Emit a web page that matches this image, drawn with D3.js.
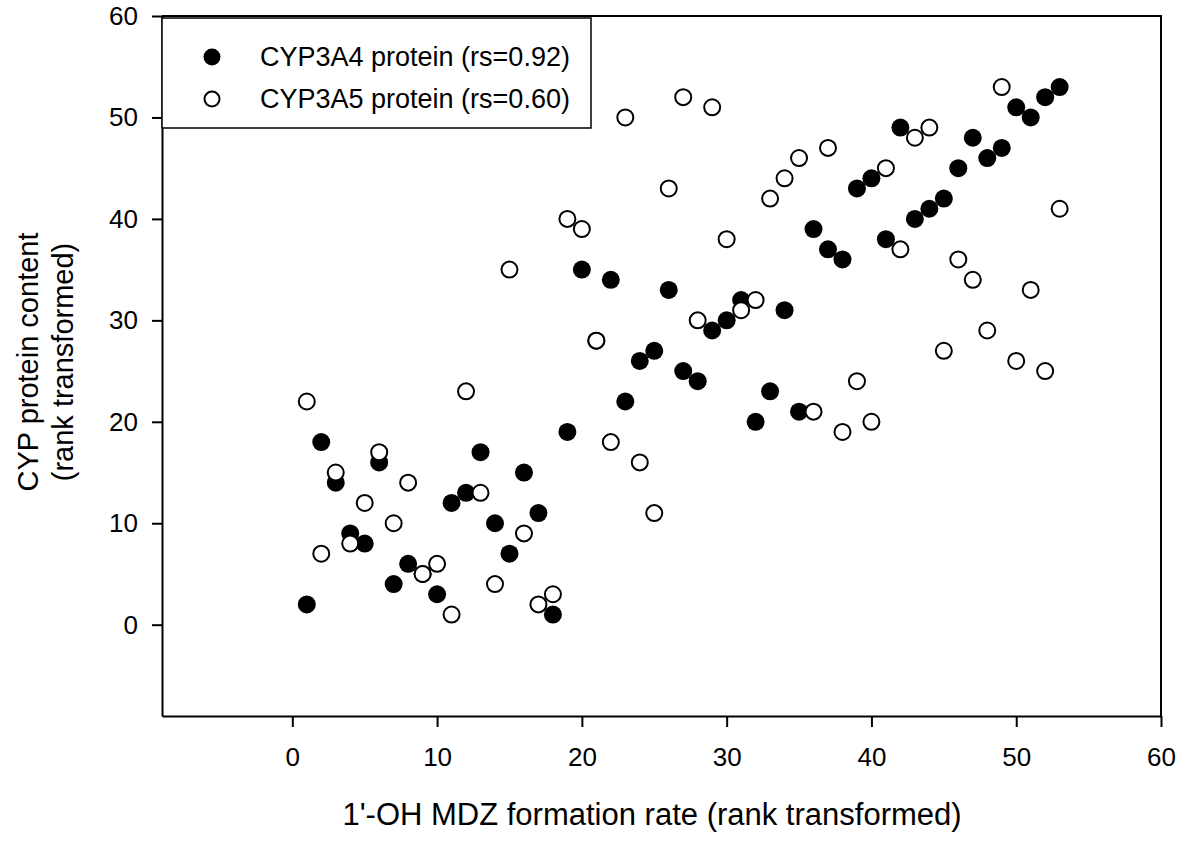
<!DOCTYPE html>
<html>
<head>
<meta charset="utf-8">
<script src="https://cdn.jsdelivr.net/npm/d3@7"></script>
<style>
  body { margin: 0; background: #fff; }
  text { font-family: "Liberation Sans", Arial, sans-serif; fill: #000; }
</style>
</head>
<body>
<div id="chart"></div>
<script>
// rank of 1'-OH MDZ formation rate (x) for each liver
const mdzRank = [1, 2, 3, 4, 5, 6, 7, 8, 9, 10, 11, 12, 13, 14, 15, 16, 17, 18, 19, 20,
    21, 22, 23, 24, 25, 26, 27, 28, 29, 30, 31, 32, 33, 34, 35, 36, 37, 38, 39, 40,
    41, 42, 43, 44, 45, 46, 47, 48, 49, 50, 51, 52, 53];

// CYP3A4 protein rank
const cyp3a4Rank = [2, 18, 14, 9, 8, 16, 4, 6, 5, 3, 12, 13, 17, 10, 7, 15, 11, 1, 19, 35,
    28, 34, 22, 26, 27, 33, 25, 24, 29, 30, 32, 20, 23, 31, 21, 39, 37, 36, 43, 44,
    38, 49, 40, 41, 42, 45, 48, 46, 47, 51, 50, 52, 53];

// CYP3A5 protein rank
const cyp3a5Rank = [22, 7, 15, 8, 12, 17, 10, 14, 5, 6, 1, 23, 13, 4, 35, 9, 2, 3, 40, 39,
    28, 18, 50, 16, 11, 43, 52, 30, 51, 38, 31, 32, 42, 44, 46, 21, 47, 19, 24, 20,
    45, 37, 48, 49, 27, 36, 34, 29, 53, 26, 33, 25, 41];

const seriesNames = ["CYP3A4 protein (rs=0.92)", "CYP3A5 protein (rs=0.60)"];
const tickValues = [0, 10, 20, 30, 40, 50, 60];

const margin = { top: 16, right: 24, bottom: 126, left: 162 };
const width = 1185 - margin.left - margin.right;
const height = 842 - margin.top - margin.bottom;

const svg = d3.select("#chart")
    .append("svg")
    .attr("width", width + margin.left + margin.right)
    .attr("height", height + margin.top + margin.bottom)
    .append("g")
    .attr("transform", `translate(${margin.left}, ${margin.top})`);

// escalas
const x = d3.scaleLinear().domain([-9, 60]).range([0, width]);
const y = d3.scaleLinear().domain([-9, 60]).range([height, 0]);

// marco (arriba y derecha)
svg.append("path")
    .attr("d", `M0,0H${width}V${height}`)
    .attr("fill", "none")
    .attr("stroke", "#000")
    .attr("stroke-width", 2);

// ejes
const xAxis = svg.append("g")
    .attr("transform", `translate(0, ${height})`)
    .call(d3.axisBottom(x).tickValues(tickValues).tickSize(11).tickPadding(21).tickSizeOuter(0));

const yAxis = svg.append("g")
    .call(d3.axisLeft(y).tickValues(tickValues).tickSize(10).tickPadding(14).tickSizeOuter(0));

[xAxis, yAxis].forEach(a => {
    a.select(".domain").attr("stroke-width", 2);
    a.selectAll(".tick line").attr("stroke-width", 2);
    a.selectAll("text")
        .style("font-family", "'Liberation Sans', Arial, sans-serif")
        .style("font-size", "26px")
        .attr("fill", "#000");
});

// puntos: CYP3A4 rellenos, CYP3A5 vacíos encima
svg.append("g")
    .selectAll("circle")
    .data(mdzRank.map((r, i) => ({ x: r, y: cyp3a4Rank[i] })))
    .enter()
    .append("circle")
    .attr("cx", d => x(d.x))
    .attr("cy", d => y(d.y))
    .attr("r", 9)
    .attr("fill", "#000");

svg.append("g")
    .selectAll("circle")
    .data(mdzRank.map((r, i) => ({ x: r, y: cyp3a5Rank[i] })))
    .enter()
    .append("circle")
    .attr("cx", d => x(d.x))
    .attr("cy", d => y(d.y))
    .attr("r", 8)
    .attr("fill", "#fff")
    .attr("stroke", "#000")
    .attr("stroke-width", 2);

// leyenda
const legend = svg.append("g").attr("transform", "translate(0, 2)");
legend.append("rect")
    .attr("x", 0)
    .attr("y", 0)
    .attr("width", 429)
    .attr("height", 110)
    .attr("fill", "#fff")
    .attr("stroke", "#000")
    .attr("stroke-width", 1.5);

seriesNames.forEach((name, i) => {
    const cy = 39 + i * 42;
    legend.append("circle")
        .attr("cx", 50)
        .attr("cy", cy)
        .attr("r", i === 0 ? 8.5 : 7.5)
        .attr("fill", i === 0 ? "#000" : "#fff")
        .attr("stroke", "#000")
        .attr("stroke-width", i === 0 ? 0 : 2);
    legend.append("text")
        .attr("x", 98)
        .attr("y", cy + 8.5)
        .style("font-size", "27px")
        .text(name);
});

// etiquetas de los ejes
svg.append("text")
    .attr("x", 490)
    .attr("y", height + 109)
    .attr("text-anchor", "middle")
    .style("font-size", "31px")
    .text("1'-OH MDZ formation rate (rank transformed)");

const yTitle = svg.append("text")
    .attr("transform", `translate(${-124}, ${height / 2 - 4}) rotate(-90)`)
    .attr("text-anchor", "middle")
    .style("font-size", "29px");
yTitle.append("tspan").attr("x", 0).attr("y", 0).text("CYP protein content");
yTitle.append("tspan").attr("x", 0).attr("y", 35).text("(rank transformed)");
</script>
</body>
</html>
